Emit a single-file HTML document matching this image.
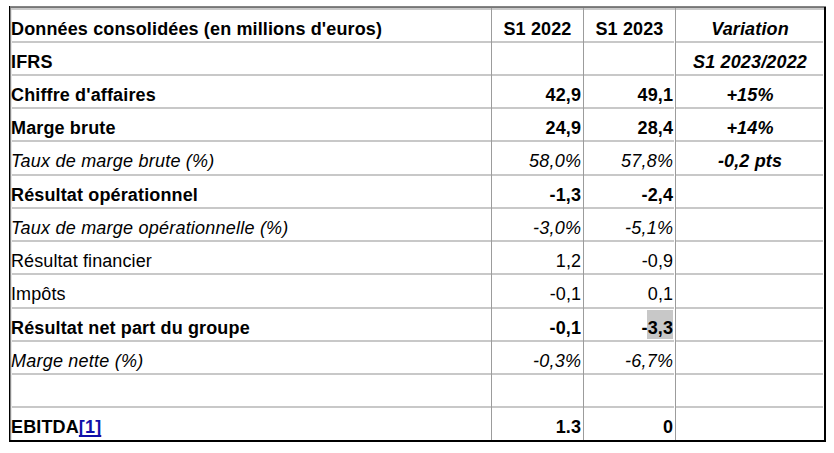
<!DOCTYPE html>
<html><head><meta charset="utf-8"><style>
html,body{margin:0;padding:0;background:#fff;}
body{width:834px;height:453px;position:relative;overflow:hidden;font-family:"Liberation Sans",sans-serif;font-size:18px;color:#000;}
.l{position:absolute;}
.t{position:absolute;white-space:nowrap;line-height:18px;height:18px;letter-spacing:0.17px;}
.hl{background:#c8c8c8;}
a{color:#1010aa;text-decoration:underline;text-decoration-skip-ink:none;text-decoration-thickness:2px;text-underline-offset:2px;}
</style></head><body>

<div class="l" style="left:10px;top:8px;width:814px;height:2px;background:#cacaca"></div>
<div class="l" style="left:12px;top:41px;width:811px;height:2px;background:#c8c8c8"></div>
<div class="l" style="left:12px;top:74px;width:811px;height:2px;background:#c8c8c8"></div>
<div class="l" style="left:12px;top:107px;width:811px;height:2px;background:#c8c8c8"></div>
<div class="l" style="left:12px;top:140px;width:811px;height:2px;background:#c8c8c8"></div>
<div class="l" style="left:12px;top:174px;width:811px;height:2px;background:#c8c8c8"></div>
<div class="l" style="left:12px;top:207px;width:811px;height:2px;background:#c8c8c8"></div>
<div class="l" style="left:12px;top:240px;width:811px;height:2px;background:#c8c8c8"></div>
<div class="l" style="left:12px;top:273px;width:811px;height:2px;background:#c8c8c8"></div>
<div class="l" style="left:12px;top:307px;width:811px;height:2px;background:#c8c8c8"></div>
<div class="l" style="left:12px;top:340px;width:811px;height:2px;background:#c8c8c8"></div>
<div class="l" style="left:12px;top:373px;width:811px;height:2px;background:#c8c8c8"></div>
<div class="l" style="left:12px;top:406px;width:811px;height:2px;background:#c8c8c8"></div>
<div class="l" style="left:674px;top:10px;width:1px;height:430px;background:#fff"></div>
<div class="l" style="left:491px;top:8px;width:1px;height:432px;background:#9c9c9c"></div>
<div class="l" style="left:583px;top:8px;width:1px;height:432px;background:#9c9c9c"></div>
<div class="l" style="left:675px;top:8px;width:1px;height:432px;background:#9c9c9c"></div>
<div class="l" style="left:9px;top:6px;width:817px;height:1px;background:#858585"></div>
<div class="l" style="left:9px;top:7px;width:817px;height:1px;background:#767676"></div>
<div class="l" style="left:9px;top:6px;width:1px;height:436px;background:#000"></div>
<div class="l" style="left:10px;top:8px;width:1px;height:432px;background:#8a8a8a"></div>
<div class="l" style="left:11px;top:10px;width:1px;height:430px;background:#e6e6e6"></div>
<div class="l" style="left:824px;top:7px;width:2px;height:435px;background:#000"></div>
<div class="l" style="left:9px;top:440px;width:817px;height:2px;background:#000"></div>
<div class="t" style="left:11px;top:20px;letter-spacing:0.14px;font-weight:bold">Données consolidées (en millions d'euros)</div>
<div class="t" style="left:492px;width:91px;text-align:center;top:20px;letter-spacing:0.14px;font-weight:bold">S1 2022</div>
<div class="t" style="left:584px;width:91px;text-align:center;top:20px;letter-spacing:0.14px;font-weight:bold">S1 2023</div>
<div class="t" style="left:676px;width:148px;text-align:center;top:20px;letter-spacing:0.15px;font-weight:bold;font-style:italic">Variation</div>
<div class="t" style="left:11px;top:53px;letter-spacing:0.14px;font-weight:bold">IFRS</div>
<div class="t" style="left:676px;width:148px;text-align:center;top:53px;letter-spacing:0.15px;font-weight:bold;font-style:italic">S1 2023/2022</div>
<div class="t" style="left:11px;top:86px;letter-spacing:0.14px;font-weight:bold">Chiffre d'affaires</div>
<div class="t" style="right:252.86px;top:86px;letter-spacing:0.14px;font-weight:bold">42,9</div>
<div class="t" style="right:160.86px;top:86px;letter-spacing:0.14px;font-weight:bold">49,1</div>
<div class="t" style="left:676px;width:148px;text-align:center;top:86px;letter-spacing:0.15px;font-weight:bold;font-style:italic">+15%</div>
<div class="t" style="left:11px;top:119px;letter-spacing:0.14px;font-weight:bold">Marge brute</div>
<div class="t" style="right:252.86px;top:119px;letter-spacing:0.14px;font-weight:bold">24,9</div>
<div class="t" style="right:160.86px;top:119px;letter-spacing:0.14px;font-weight:bold">28,4</div>
<div class="t" style="left:676px;width:148px;text-align:center;top:119px;letter-spacing:0.15px;font-weight:bold;font-style:italic">+14%</div>
<div class="t" style="left:11px;top:152px;letter-spacing:0.22px;font-style:italic">Taux de marge brute (%)</div>
<div class="t" style="right:252.78px;top:152px;letter-spacing:0.22px;font-style:italic">58,0%</div>
<div class="t" style="right:160.78px;top:152px;letter-spacing:0.22px;font-style:italic">57,8%</div>
<div class="t" style="left:676px;width:148px;text-align:center;top:152px;letter-spacing:0.15px;font-weight:bold;font-style:italic">-0,2 pts</div>
<div class="t" style="left:11px;top:186px;letter-spacing:0.14px;font-weight:bold">Résultat opérationnel</div>
<div class="t" style="right:252.86px;top:186px;letter-spacing:0.14px;font-weight:bold">-1,3</div>
<div class="t" style="right:160.86px;top:186px;letter-spacing:0.14px;font-weight:bold">-2,4</div>
<div class="t" style="left:11px;top:219px;letter-spacing:0.22px;font-style:italic">Taux de marge opérationnelle (%)</div>
<div class="t" style="right:252.78px;top:219px;letter-spacing:0.22px;font-style:italic">-3,0%</div>
<div class="t" style="right:160.78px;top:219px;letter-spacing:0.22px;font-style:italic">-5,1%</div>
<div class="t" style="left:11px;top:252px;letter-spacing:0.10px">Résultat financier</div>
<div class="t" style="right:252.9px;top:252px;letter-spacing:0.10px">1,2</div>
<div class="t" style="right:160.9px;top:252px;letter-spacing:0.10px">-0,9</div>
<div class="t" style="left:11px;top:285px;letter-spacing:0.10px">Impôts</div>
<div class="t" style="right:252.9px;top:285px;letter-spacing:0.10px">-0,1</div>
<div class="t" style="right:160.9px;top:285px;letter-spacing:0.10px">0,1</div>
<div class="t" style="left:11px;top:319px;letter-spacing:0.14px;font-weight:bold">Résultat net part du groupe</div>
<div class="t" style="right:252.86px;top:319px;letter-spacing:0.14px;font-weight:bold">-0,1</div>
<div class="l" style="left:647px;top:310px;width:26px;height:29px;background:#c8c8c8"></div>
<div class="t" style="right:160.86px;top:319px;letter-spacing:0.14px;font-weight:bold">-3,3</div>
<div class="t" style="left:11px;top:352px;letter-spacing:0.22px;font-style:italic">Marge nette (%)</div>
<div class="t" style="right:252.78px;top:352px;letter-spacing:0.22px;font-style:italic">-0,3%</div>
<div class="t" style="right:160.78px;top:352px;letter-spacing:0.22px;font-style:italic">-6,7%</div>
<div class="t" style="left:11px;top:418px;letter-spacing:0.14px;font-weight:bold">EBITDA<a>[1]</a></div>
<div class="t" style="right:252.86px;top:418px;letter-spacing:0.14px;font-weight:bold">1.3</div>
<div class="t" style="right:160.86px;top:418px;letter-spacing:0.14px;font-weight:bold">0</div>
</body></html>
